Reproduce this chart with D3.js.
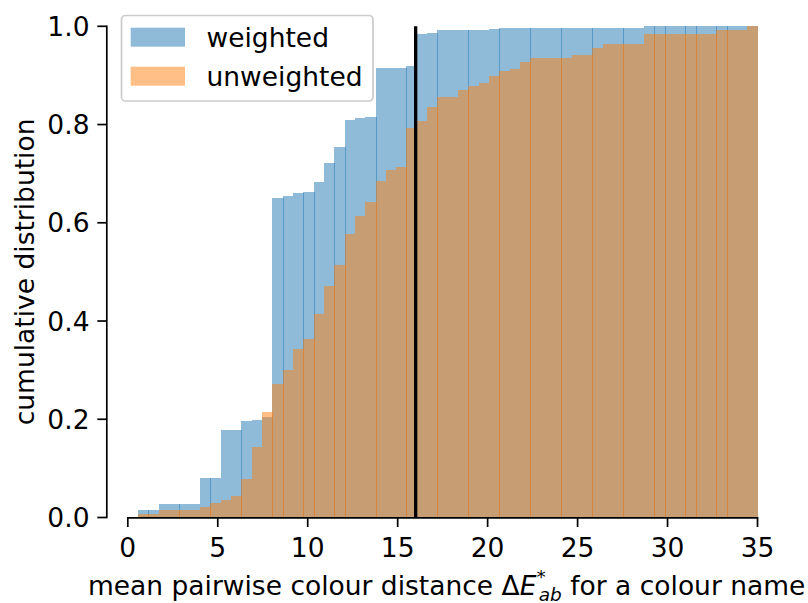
<!DOCTYPE html>
<html>
<head>
<meta charset="utf-8">
<script src="https://cdn.jsdelivr.net/npm/d3@7"></script>
<style>
	body { margin: 0; background: #fff; }
	svg { display: block; font-family: "DejaVu Sans", sans-serif; }
</style>
</head>
<body>
<svg width="808" height="603"></svg>
<script>
const d3 = window.d3;

// histogram bins (60 equal bins between min and max of the data)
const binStart = 0.57;
const binEnd = 35.0;
const binCount = 60;

// cumulative fraction per bin
const weighted = [
	0.015, 0.015, 0.028, 0.028, 0.028, 0.028, 0.080, 0.080, 0.178, 0.178,
	0.196, 0.198, 0.205, 0.650, 0.655, 0.661, 0.663, 0.683, 0.722, 0.754,
	0.809, 0.813, 0.815, 0.915, 0.915, 0.915, 0.919, 0.984, 0.986, 0.993,
	0.993, 0.993, 0.993, 0.993, 0.995, 0.997, 0.997, 0.997, 0.997, 0.997,
	0.997, 0.997, 0.997, 0.997, 0.997, 0.997, 0.997, 0.997, 0.997, 1.000,
	1.000, 1.000, 1.000, 1.000, 1.000, 1.000, 1.000, 1.000, 1.000, 1.000,
];
const unweighted = [
	0.007, 0.007, 0.015, 0.015, 0.015, 0.015, 0.021, 0.030, 0.036, 0.044,
	0.078, 0.144, 0.215, 0.272, 0.300, 0.343, 0.363, 0.414, 0.472, 0.514,
	0.577, 0.614, 0.643, 0.685, 0.707, 0.714, 0.793, 0.807, 0.836, 0.856,
	0.856, 0.871, 0.878, 0.885, 0.899, 0.908, 0.913, 0.928, 0.936, 0.936,
	0.936, 0.936, 0.942, 0.942, 0.956, 0.964, 0.964, 0.964, 0.964, 0.985,
	0.985, 0.985, 0.985, 0.985, 0.985, 0.985, 0.993, 0.993, 0.993, 1.000,
];
const seriesNames = ["weighted", "unweighted"];
const seriesColors = ["#1f77b4", "#ff7f0e"];
const xTicks = [0, 5, 10, 15, 20, 25, 30, 35];
const yTicks = [0.0, 0.2, 0.4, 0.6, 0.8, 1.0];
const threshold = 16;

const fontSize = 26.5;
const svg = d3.select("svg");
const xScale = d3.scaleLinear().domain([0, 35]).range([127.8, 757.5]);
const yScale = d3.scaleLinear().domain([0, 1]).range([517.5, 26.3]);
const binWidth = (binEnd - binStart) / binCount;
const edges = d3.range(binCount + 1).map(i => binStart + i * binWidth);

function drawBars(values, color) {
	const g = svg.append("g").attr("shape-rendering", "crispEdges");
	values.forEach((v, i) => {
		const x0 = Math.round(xScale(edges[i]));
		const xr = xScale(edges[i + 1]);
		let x1 = Math.round(xr);
		// matplotlib pixel snapping leaves a 1px overlap on some edges
		const frac = xr - Math.floor(xr);
		if (i < values.length - 1 && frac > 0.2 && frac < 0.6) x1 += 1;
		const y = Math.round(yScale(v));
		g.append("rect")
			.attr("x", x0)
			.attr("y", y)
			.attr("width", x1 - x0)
			.attr("height", Math.round(yScale(0)) - y)
			.attr("fill", color)
			.attr("fill-opacity", 0.5);
	});
}

drawBars(weighted, seriesColors[0]);
drawBars(unweighted, seriesColors[1]);

// threshold line
svg.append("line")
	.attr("x1", xScale(threshold))
	.attr("x2", xScale(threshold))
	.attr("y1", yScale(0))
	.attr("y2", yScale(1))
	.attr("stroke", "black")
	.attr("stroke-width", 3.3);

// x axis (trimmed spine)
const xAxis = svg.append("g");
xAxis.append("line")
	.attr("x1", xScale(0) - 0.8)
	.attr("x2", xScale(35) + 0.8)
	.attr("y1", yScale(0) + 0.3)
	.attr("y2", yScale(0) + 0.3)
	.attr("stroke", "black")
	.attr("stroke-width", 1.7);
xTicks.forEach(t => {
	xAxis.append("line")
		.attr("x1", xScale(t))
		.attr("x2", xScale(t))
		.attr("y1", yScale(0))
		.attr("y2", yScale(0) + 9.5)
		.attr("stroke", "black")
		.attr("stroke-width", 1.7);
	xAxis.append("text")
		.attr("x", xScale(t))
		.attr("y", 556.5)
		.attr("text-anchor", "middle")
		.attr("font-size", fontSize)
		.text(t);
});

// y axis, offset to the left
const yAxisX = 106.8;
const yAxis = svg.append("g");
yAxis.append("line")
	.attr("x1", yAxisX)
	.attr("x2", yAxisX)
	.attr("y1", yScale(0) + 0.8)
	.attr("y2", yScale(1) - 0.8)
	.attr("stroke", "black")
	.attr("stroke-width", 1.7);
yTicks.forEach(t => {
	yAxis.append("line")
		.attr("x1", yAxisX - 9.5)
		.attr("x2", yAxisX)
		.attr("y1", yScale(t))
		.attr("y2", yScale(t))
		.attr("stroke", "black")
		.attr("stroke-width", 1.7);
	yAxis.append("text")
		.attr("x", 89.5)
		.attr("y", yScale(t) + 9.6)
		.attr("text-anchor", "end")
		.attr("font-size", fontSize)
		.text(t.toFixed(1));
});

// axis labels
svg.append("text")
	.attr("transform", `translate(33.5,${(yScale(0) + yScale(1)) / 2})rotate(-90)`)
	.attr("text-anchor", "middle")
	.attr("font-size", fontSize)
	.text("cumulative distribution");

const xLabel = svg.append("text")
	.attr("x", (xScale(0) + xScale(35)) / 2 + 4)
	.attr("y", 595)
	.attr("text-anchor", "middle")
	.attr("font-size", fontSize);
xLabel.append("tspan").text("mean pairwise colour distance \u0394");
xLabel.append("tspan").attr("font-style", "italic").text("E");
xLabel.append("tspan").attr("font-size", 18.5).attr("dy", -12).text("*");
xLabel.append("tspan").attr("font-size", 18.5).attr("font-style", "italic")
	.attr("dx", -7).attr("dy", 18).text("ab");
xLabel.append("tspan").attr("dy", -6).text(" for a colour name");

// legend
const legend = svg.append("g");
legend.append("rect")
	.attr("x", 121.5)
	.attr("y", 15.5)
	.attr("width", 251.5)
	.attr("height", 85.5)
	.attr("rx", 4)
	.attr("fill", "white")
	.attr("fill-opacity", 0.8)
	.attr("stroke", "#cccccc")
	.attr("stroke-width", 1.7);
seriesNames.forEach((name, i) => {
	const y = 27.7 + i * 39;
	legend.append("rect")
		.attr("x", 130.7)
		.attr("y", y)
		.attr("width", 54.3)
		.attr("height", 19)
		.attr("fill", seriesColors[i])
		.attr("fill-opacity", 0.5);
	legend.append("text")
		.attr("x", 206.5)
		.attr("y", y + 19)
		.attr("font-size", fontSize)
		.text(name);
});
</script>
</body>
</html>
